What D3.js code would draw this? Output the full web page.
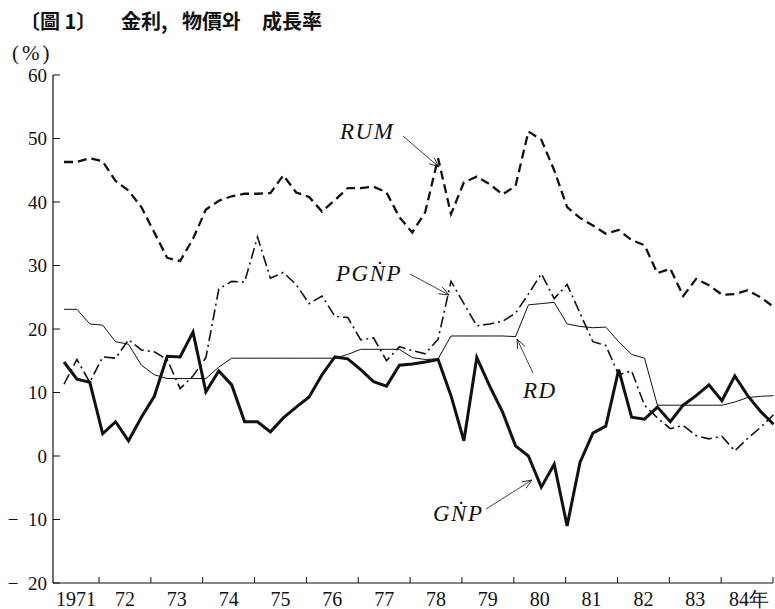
<!DOCTYPE html>
<html>
<head>
<meta charset="utf-8">
<script src="https://cdn.jsdelivr.net/npm/d3@7/dist/d3.min.js"></script>
<style>
  body { margin: 0; background: #fff; }
  svg { display: block; }
</style>
</head>
<body>
<div id="chart"></div>
<script>
// quarterly data, 1971 Q1 .. 1984 Q4 (%)
const years = [1971, 1972, 1973, 1974, 1975, 1976, 1977, 1978, 1979, 1980, 1981, 1982, 1983, 1984];
const yearLabels = ["1971", "72", "73", "74", "75", "76", "77", "78", "79", "80", "81", "82", "83", "84年"];
const quarters = years.flatMap(y => [1, 2, 3, 4].map(q => y + "Q" + q));
const yTicks = [-20, -10, 0, 10, 20, 30, 40, 50, 60];

const rum = [46.3, 46.3, 46.9, 46.4, 43.3, 41.8, 39.2, 35.2, 31.2, 30.7, 34.2, 38.8, 40.2, 40.9,
  41.3, 41.3, 41.4, 44.2, 41.5, 40.8, 38.5, 40.3, 42.2, 42.2, 42.4, 41.5, 37.6, 35.2,
  38.4, 46.9, 38.1, 43.1, 44.0, 42.8, 41.2, 42.5, 51.1, 49.8, 45.0, 39.2, 37.5, 36.3,
  35.0, 35.6, 34.0, 33.2, 28.8, 29.5, 25.2, 27.9, 26.9, 25.4, 25.5, 26.1, 25.0, 23.5];

const pgnp = [11.3, 15.2, 11.6, 15.6, 15.4, 18.3, 16.7, 16.4, 15.2, 10.6, 12.6, 15.5, 26.3, 27.5,
  27.4, 34.5, 28.0, 28.9, 27.0, 24.0, 25.2, 22.0, 21.8, 18.3, 18.6, 15.0, 17.2, 16.6,
  16.1, 18.4, 27.5, 24.0, 20.5, 20.8, 21.2, 22.5, 25.5, 28.7, 24.8, 27.0, 22.5, 18.0,
  17.4, 12.8, 13.4, 8.0, 6.0, 4.3, 4.8, 3.2, 2.7, 3.1, 0.8, 2.8, 4.5, 6.5];

const rd = [23.1, 23.1, 20.8, 20.6, 18.0, 17.6, 14.3, 12.8, 12.2, 12.2, 12.2, 12.2, 14.0, 15.4,
  15.4, 15.4, 15.4, 15.4, 15.4, 15.4, 15.4, 15.4, 16.0, 16.8, 16.8, 16.8, 16.8, 15.5,
  15.2, 15.3, 18.9, 18.9, 18.9, 18.9, 18.9, 18.8, 23.8, 24.0, 24.2, 20.8, 20.4, 20.2,
  20.3, 18.0, 16.0, 15.4, 8.0, 8.0, 8.0, 8.0, 8.0, 8.0, 8.5, 9.2, 9.4, 9.5];

const gnp = [14.8, 12.1, 11.6, 3.5, 5.4, 2.4, 6.1, 9.4, 15.7, 15.6, 19.5, 10.1, 13.4, 11.2,
  5.4, 5.4, 3.8, 6.0, 7.7, 9.3, 12.8, 15.6, 15.3, 13.6, 11.7, 11.0, 14.3, 14.5,
  14.8, 15.2, 9.5, 2.4, 15.5, 11.0, 6.9, 1.6, 0.0, -4.9, -1.3, -11.0, -1.0, 3.6,
  4.7, 13.6, 6.1, 5.8, 7.7, 5.4, 8.0, 9.5, 11.2, 8.7, 12.6, 9.5, 7.0, 5.0];

const width = 775, height = 609;
const axisX = 53, axisTop = 75, axisBottom = 583, axisRight = 773;

const svg = d3.select("#chart").append("svg")
  .attr("width", width)
  .attr("height", height);

const x = d3.scalePoint().domain(quarters).range([64, 773.5]);
const xYear = d3.scaleLinear().domain([1971, 1985]).range([47.2, axisRight]);
const y = d3.scaleLinear().domain([-20, 60]).range([axisBottom, axisTop]);

const serif = "'Liberation Serif', 'Times New Roman', 'DejaVu Serif', serif";
const ink = "#111";

// title
const title = svg.append("g")
  .attr("font-family", "'Noto Sans CJK KR', 'Noto Sans CJK JP', sans-serif")
  .attr("font-weight", "bold")
  .attr("font-size", 20)
  .attr("fill", ink);
[["〔圖 1〕", 20], ["金利,", 121], ["物價와", 182], ["成長率", 262]].forEach(([t, px]) => {
  title.append("text").attr("x", px).attr("y", 29).text(t);
});

svg.append("text")
  .attr("x", 12).attr("y", 60)
  .attr("font-family", serif)
  .attr("font-size", 21)
  .attr("letter-spacing", 3)
  .attr("fill", ink)
  .text("(%)");

// y axis
svg.append("line")
  .attr("x1", axisX).attr("x2", axisX)
  .attr("y1", axisTop).attr("y2", axisBottom)
  .attr("stroke", ink).attr("stroke-width", 1.2);

const yg = svg.append("g");
yg.selectAll("line").data(yTicks).enter().append("line")
  .attr("x1", axisX).attr("x2", axisX + 7)
  .attr("y1", d => y(d)).attr("y2", d => y(d))
  .attr("stroke", ink).attr("stroke-width", 1);
yg.selectAll("text").data(yTicks).enter().append("text")
  .attr("x", 47)
  .attr("y", d => y(d))
  .attr("dy", "0.36em")
  .attr("text-anchor", "end")
  .attr("font-family", serif)
  .attr("font-size", 19)
  .attr("fill", ink)
  .text(d => d < 0 ? "\u2212\u2002" + Math.abs(d) : d);

// x axis
svg.append("line")
  .attr("x1", axisX).attr("x2", axisRight)
  .attr("y1", axisBottom).attr("y2", axisBottom)
  .attr("stroke", ink).attr("stroke-width", 1.2);

const xg = svg.append("g");
xg.selectAll("line").data(years.map(d => d + 1)).enter().append("line")
  .attr("x1", d => xYear(d)).attr("x2", d => xYear(d))
  .attr("y1", axisBottom).attr("y2", axisBottom - 6)
  .attr("stroke", ink).attr("stroke-width", 1);
xg.selectAll("text").data(years).enter().append("text")
  .attr("x", (d, i) => i === 0 ? (axisX + xYear(d + 1)) / 2 : xYear(d + 0.5) + (i === years.length - 1 ? 2 : 0))
  .attr("y", 606)
  .attr("text-anchor", "middle")
  .attr("font-family", serif)
  .attr("font-size", 20)
  .attr("fill", ink)
  .text((d, i) => yearLabels[i]);

// series
const series = [
  { name: "RUM", values: rum, width: 2.3, dash: "9,5" },
  { name: "PGNP", values: pgnp, width: 1.6, dash: "11,4,2,4" },
  { name: "RD", values: rd, width: 1, dash: null },
  { name: "GNP", values: gnp, width: 3, dash: null }
];

const line = d3.line()
  .x((d, i) => x(quarters[i]))
  .y(d => y(d));

svg.selectAll("path.series")
  .data(series)
  .enter().append("path")
  .attr("class", "series")
  .attr("d", d => line(d.values))
  .attr("fill", "none")
  .attr("stroke", ink)
  .attr("stroke-width", d => d.width)
  .attr("stroke-linejoin", "miter")
  .attr("stroke-dasharray", d => d.dash);

// labels with arrows
svg.append("defs").append("marker")
  .attr("id", "arrow")
  .attr("markerUnits", "userSpaceOnUse")
  .attr("markerWidth", 12).attr("markerHeight", 10)
  .attr("refX", 10).attr("refY", 4)
  .attr("orient", "auto")
  .append("path")
  .attr("d", "M0,0 L10,4 L0,8")
  .attr("fill", "none")
  .attr("stroke", ink)
  .attr("stroke-width", 0.8);

const notes = [
  { text: "RUM", tx: 340, ty: 139, from: [403, 136], to: [439, 167] },
  { text: "PG\u1E44P", tx: 336, ty: 281, from: [410, 274], to: [449, 295] },
  { text: "RD", tx: 523, ty: 398, from: [533, 373], to: [517, 339] },
  { text: "G\u1E44P", tx: 433, ty: 521, from: [486, 509], to: [532, 480] }
];

const ng = svg.append("g");
notes.forEach(n => {
  ng.append("text")
    .attr("x", n.tx).attr("y", n.ty)
    .attr("font-family", serif)
    .attr("font-style", "italic")
    .attr("font-size", 23)
    .attr("letter-spacing", 1.5)
    .attr("fill", ink)
    .text(n.text);
  ng.append("line")
    .attr("x1", n.from[0]).attr("y1", n.from[1])
    .attr("x2", n.to[0]).attr("y2", n.to[1])
    .attr("stroke", ink)
    .attr("stroke-width", 0.8)
    .attr("marker-end", "url(#arrow)");
});
</script>
</body>
</html>
